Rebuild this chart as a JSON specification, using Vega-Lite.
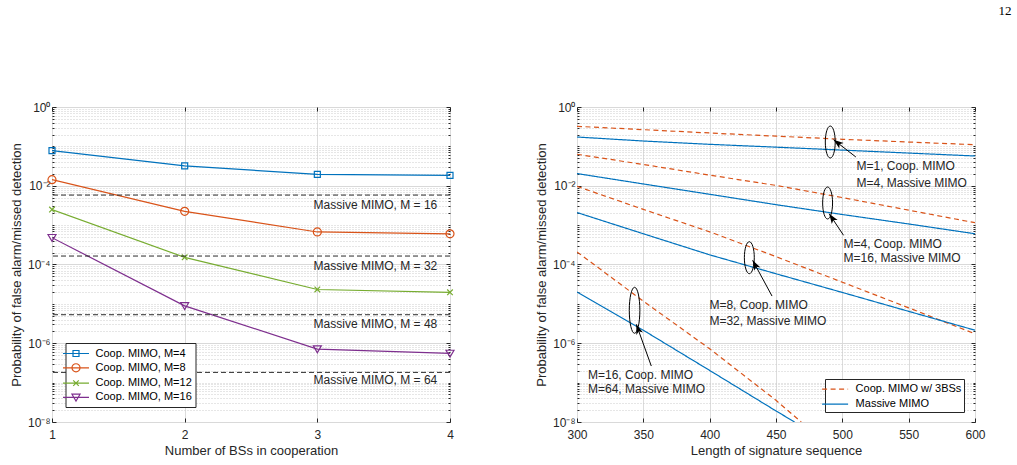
{
  "$schema": "https://vega.github.io/schema/vega-lite/v6.json",
  "background": "white",
  "padding": {"left": 9, "right": 5, "top": 4, "bottom": 4},
  "title": {"text": "12", "anchor": "end", "font": "Liberation Serif", "fontSize": 13, "fontWeight": "normal", "color": "#000000", "offset": 83, "dx": 26},
  "datasets": {
    "coop": [
      {"series": "Coop. MIMO, M=4", "bs": 1, "p": 0.078},
      {"series": "Coop. MIMO, M=4", "bs": 2, "p": 0.032},
      {"series": "Coop. MIMO, M=4", "bs": 3, "p": 0.0195},
      {"series": "Coop. MIMO, M=4", "bs": 4, "p": 0.0184},
      {"series": "Coop. MIMO, M=8", "bs": 1, "p": 0.0143},
      {"series": "Coop. MIMO, M=8", "bs": 2, "p": 0.00224},
      {"series": "Coop. MIMO, M=8", "bs": 3, "p": 0.00067},
      {"series": "Coop. MIMO, M=8", "bs": 4, "p": 0.0006},
      {"series": "Coop. MIMO, M=12", "bs": 1, "p": 0.00248},
      {"series": "Coop. MIMO, M=12", "bs": 2, "p": 0.000152},
      {"series": "Coop. MIMO, M=12", "bs": 3, "p": 0.0000232},
      {"series": "Coop. MIMO, M=12", "bs": 4, "p": 0.0000197},
      {"series": "Coop. MIMO, M=16", "bs": 1, "p": 0.00048},
      {"series": "Coop. MIMO, M=16", "bs": 2, "p": 0.0000089},
      {"series": "Coop. MIMO, M=16", "bs": 3, "p": 7.1e-7},
      {"series": "Coop. MIMO, M=16", "bs": 4, "p": 5.5e-7}
    ],
    "massive": [
      {"M": 16, "p": 0.0058},
      {"M": 32, "p": 0.000164},
      {"M": 48, "p": 0.0000053},
      {"M": 64, "p": 1.82e-7}
    ],
    "massiveLabels": [
      {"bs": 3.904, "p": 0.0033, "label": "Massive MIMO, M = 16"},
      {"bs": 3.904, "p": 0.0000916, "label": "Massive MIMO, M = 32"},
      {"bs": 3.904, "p": 0.00000302, "label": "Massive MIMO, M = 48"},
      {"bs": 3.904, "p": 1.15e-7, "label": "Massive MIMO, M = 64"}
    ],
    "curves": [
      {"kind": "Coop. MIMO w/ 3BSs", "grp": "c1", "L": 300, "p": 0.3236},
      {"kind": "Coop. MIMO w/ 3BSs", "grp": "c1", "L": 350, "p": 0.2655},
      {"kind": "Coop. MIMO w/ 3BSs", "grp": "c1", "L": 400, "p": 0.2188},
      {"kind": "Coop. MIMO w/ 3BSs", "grp": "c1", "L": 450, "p": 0.182},
      {"kind": "Coop. MIMO w/ 3BSs", "grp": "c1", "L": 500, "p": 0.1514},
      {"kind": "Coop. MIMO w/ 3BSs", "grp": "c1", "L": 550, "p": 0.1288},
      {"kind": "Coop. MIMO w/ 3BSs", "grp": "c1", "L": 600, "p": 0.1104},
      {"kind": "Coop. MIMO w/ 3BSs", "grp": "c2", "L": 300, "p": 0.0631},
      {"kind": "Coop. MIMO w/ 3BSs", "grp": "c2", "L": 350, "p": 0.0347},
      {"kind": "Coop. MIMO w/ 3BSs", "grp": "c2", "L": 400, "p": 0.0186},
      {"kind": "Coop. MIMO w/ 3BSs", "grp": "c2", "L": 450, "p": 0.0102},
      {"kind": "Coop. MIMO w/ 3BSs", "grp": "c2", "L": 500, "p": 0.00501},
      {"kind": "Coop. MIMO w/ 3BSs", "grp": "c2", "L": 550, "p": 0.0024},
      {"kind": "Coop. MIMO w/ 3BSs", "grp": "c2", "L": 600, "p": 0.00115},
      {"kind": "Coop. MIMO w/ 3BSs", "grp": "c3", "L": 300, "p": 0.00966},
      {"kind": "Coop. MIMO w/ 3BSs", "grp": "c3", "L": 350, "p": 0.00251},
      {"kind": "Coop. MIMO w/ 3BSs", "grp": "c3", "L": 400, "p": 0.000676},
      {"kind": "Coop. MIMO w/ 3BSs", "grp": "c3", "L": 450, "p": 0.0001585},
      {"kind": "Coop. MIMO w/ 3BSs", "grp": "c3", "L": 500, "p": 0.0000355},
      {"kind": "Coop. MIMO w/ 3BSs", "grp": "c3", "L": 550, "p": 0.00000794},
      {"kind": "Coop. MIMO w/ 3BSs", "grp": "c3", "L": 600, "p": 0.00000174},
      {"kind": "Coop. MIMO w/ 3BSs", "grp": "c4", "L": 300, "p": 0.000209},
      {"kind": "Coop. MIMO w/ 3BSs", "grp": "c4", "L": 350, "p": 0.0000117},
      {"kind": "Coop. MIMO w/ 3BSs", "grp": "c4", "L": 400, "p": 7.24e-7},
      {"kind": "Coop. MIMO w/ 3BSs", "grp": "c4", "L": 450, "p": 3.55e-8},
      {"kind": "Coop. MIMO w/ 3BSs", "grp": "c4", "L": 469, "p": 1e-8},
      {"kind": "Massive MIMO", "grp": "m1", "L": 300, "p": 0.173},
      {"kind": "Massive MIMO", "grp": "m1", "L": 350, "p": 0.1368},
      {"kind": "Massive MIMO", "grp": "m1", "L": 400, "p": 0.1127},
      {"kind": "Massive MIMO", "grp": "m1", "L": 450, "p": 0.0955},
      {"kind": "Massive MIMO", "grp": "m1", "L": 500, "p": 0.0804},
      {"kind": "Massive MIMO", "grp": "m1", "L": 550, "p": 0.0676},
      {"kind": "Massive MIMO", "grp": "m1", "L": 600, "p": 0.057},
      {"kind": "Massive MIMO", "grp": "m2", "L": 300, "p": 0.0204},
      {"kind": "Massive MIMO", "grp": "m2", "L": 350, "p": 0.0111},
      {"kind": "Massive MIMO", "grp": "m2", "L": 400, "p": 0.00607},
      {"kind": "Massive MIMO", "grp": "m2", "L": 450, "p": 0.00331},
      {"kind": "Massive MIMO", "grp": "m2", "L": 500, "p": 0.00186},
      {"kind": "Massive MIMO", "grp": "m2", "L": 550, "p": 0.00107},
      {"kind": "Massive MIMO", "grp": "m2", "L": 600, "p": 0.000603},
      {"kind": "Massive MIMO", "grp": "m3", "L": 300, "p": 0.00209},
      {"kind": "Massive MIMO", "grp": "m3", "L": 350, "p": 0.000603},
      {"kind": "Massive MIMO", "grp": "m3", "L": 400, "p": 0.000176},
      {"kind": "Massive MIMO", "grp": "m3", "L": 450, "p": 0.0000582},
      {"kind": "Massive MIMO", "grp": "m3", "L": 500, "p": 0.0000195},
      {"kind": "Massive MIMO", "grp": "m3", "L": 550, "p": 0.00000646},
      {"kind": "Massive MIMO", "grp": "m3", "L": 600, "p": 0.00000214},
      {"kind": "Massive MIMO", "grp": "m4", "L": 300, "p": 0.00002},
      {"kind": "Massive MIMO", "grp": "m4", "L": 350, "p": 0.00000214},
      {"kind": "Massive MIMO", "grp": "m4", "L": 400, "p": 2.04e-7},
      {"kind": "Massive MIMO", "grp": "m4", "L": 450, "p": 1.91e-8},
      {"kind": "Massive MIMO", "grp": "m4", "L": 464, "p": 1e-8}
    ],
    "ellipses": [
      {"group": "small", "L": 490.9, "p": 0.129},
      {"group": "small", "L": 488.9, "p": 0.00365},
      {"group": "small", "L": 429.9, "p": 0.000149},
      {"group": "big", "L": 343.4, "p": 0.00000687}
    ],
    "arrows": [
      {"L0": 510.2, "p0": 0.0537, "L1": 493.4, "p1": 0.148},
      {"L0": 500.9, "p0": 0.000552, "L1": 490.1, "p1": 0.00195},
      {"L0": 447.0, "p0": 0.0000158, "L1": 432.4, "p1": 0.000128},
      {"L0": 356.0, "p0": 2.64e-7, "L1": 344.7, "p1": 0.00000303}
    ],
    "notes": [
      {"L": 510.7, "p": 0.0312, "text": "M=1, Coop. MIMO"},
      {"L": 510.7, "p": 0.01196, "text": "M=4, Massive MIMO"},
      {"L": 500.9, "p": 0.000337, "text": "M=4, Coop. MIMO"},
      {"L": 500.9, "p": 0.000146, "text": "M=16, Massive MIMO"},
      {"L": 399.8, "p": 0.0000095, "text": "M=8, Coop. MIMO"},
      {"L": 399.8, "p": 0.00000374, "text": "M=32, Massive MIMO"},
      {"L": 308.3, "p": 1.59e-7, "text": "M=16, Coop. MIMO"},
      {"L": 308.3, "p": 7.0e-8, "text": "M=64, Massive MIMO"}
    ]
  },
  "spacing": 127,
  "bounds": "flush",
  "hconcat": [
    {
      "width": 398,
      "height": 315,
      "layer": [
        {
          "data": {"name": "coop"},
          "mark": {"type": "line", "strokeWidth": 1.2, "clip": true},
          "encoding": {
            "x": {"field": "bs", "type": "quantitative", "scale": {"domain": [1, 4], "nice": false, "zero": false},
              "axis": {"orient": "bottom", "values": [1, 2, 3, 4], "format": "d", "title": "Number of BSs in cooperation", "tickSize": -4, "labelPadding": 11, "titlePadding": 4, "grid": true, "gridColor": "#dcdcdc"}},
            "y": {"field": "p", "type": "quantitative", "scale": {"type": "log", "domain": [1e-8, 1], "nice": false},
              "axis": {
                "orient": "left",
                "values": [1e-8,2e-8,3e-8,4e-8,5e-8,6e-8,7e-8,8e-8,9e-8,1e-7,2e-7,3e-7,4e-7,5e-7,6e-7,7e-7,8e-7,9e-7,1e-6,2e-6,3e-6,4e-6,5e-6,6e-6,7e-6,8e-6,9e-6,1e-5,2e-5,3e-5,4e-5,5e-5,6e-5,7e-5,8e-5,9e-5,1e-4,2e-4,3e-4,4e-4,5e-4,6e-4,7e-4,8e-4,9e-4,0.001,0.002,0.003,0.004,0.005,0.006,0.007,0.008,0.009,0.01,0.02,0.03,0.04,0.05,0.06,0.07,0.08,0.09,0.1,0.2,0.3,0.4,0.5,0.6,0.7,0.8,0.9,1],
                "labelExpr": "(abs(log(datum.value)/LN10 - round(log(datum.value)/LN10)) < 0.001 && round(log(datum.value)/LN10) % 2 == 0) ? '10' + replace(replace(replace(replace(replace(replace(toString(round(log(datum.value)/LN10)), '-', '⁻'), '0', '⁰'), '2', '²'), '4', '⁴'), '6', '⁶'), '8', '⁸') : ''",
                "title": "Probability of false alarm/missed detection",
                "titlePadding": 4,
                "labelPadding": 6,
                "grid": true,
                "gridDash": {"condition": {"test": "abs(log(datum.value)/LN10 - round(log(datum.value)/LN10)) < 0.001 && round(log(datum.value)/LN10) % 2 == 0", "value": []}, "value": [1, 2]},
                "gridColor": {"condition": {"test": "abs(log(datum.value)/LN10 - round(log(datum.value)/LN10)) < 0.001 && round(log(datum.value)/LN10) % 2 == 0", "value": "#d9d9d9"}, "value": "#cccccc"},
                "tickSize": {"condition": {"test": "abs(log(datum.value)/LN10 - round(log(datum.value)/LN10)) < 0.001 && round(log(datum.value)/LN10) % 2 == 0", "value": -4}, "value": -2}
              }},
            "color": {"field": "series", "type": "nominal",
              "scale": {"domain": ["Coop. MIMO, M=4", "Coop. MIMO, M=8", "Coop. MIMO, M=12", "Coop. MIMO, M=16"], "range": ["#0072BD", "#D95319", "#77AC30", "#7E2F8E"]},
              "legend": {
                "title": null, "orient": "none", "legendX": 13.5, "legendY": 236,
                "labelFont": "Liberation Sans", "labelFontSize": 11, "labelColor": "#000000", "labelOffset": 12,
                "symbolSize": 169, "symbolStrokeWidth": 1.2, "rowPadding": 1.3, "padding": 3,
                "strokeColor": "#262626", "fillColor": "#ffffff",
                "encode": {"symbols": {"update": {
                  "shape": {"signal": "datum.value === 'Coop. MIMO, M=4' ? 'M-2,0H2M-0.46,-0.46H0.46V0.46H-0.46Z' : datum.value === 'Coop. MIMO, M=8' ? 'M-2,0H2M-0.62,0A0.62,0.62 0 1,0 0.62,0A0.62,0.62 0 1,0 -0.62,0' : datum.value === 'Coop. MIMO, M=12' ? 'M-2,0H2M-0.43,-0.43L0.43,0.43M-0.43,0.43L0.43,-0.43' : 'M-2,0H2M-0.62,-0.49H0.62L0,0.55Z'"},
                  "fill": {"value": "transparent"}
                }}}
              }}
          }
        },
        {
          "data": {"name": "coop"},
          "transform": [{"filter": "datum.series === 'Coop. MIMO, M=4'"}],
          "mark": {"type": "point", "shape": "M-0.75,-0.75H0.75V0.75H-0.75Z", "filled": false, "size": 64, "strokeWidth": 1.2, "opacity": 1},
          "encoding": {
            "x": {"field": "bs", "type": "quantitative", "scale": {"domain": [1, 4], "nice": false, "zero": false},
              "axis": {"orient": "top", "values": [1, 2, 3, 4], "labels": false, "title": null, "grid": false, "tickSize": -4}},
            "y": {"field": "p", "type": "quantitative", "scale": {"type": "log", "domain": [1e-8, 1], "nice": false},
              "axis": {
                "orient": "right", "labels": false, "title": null, "grid": false,
                "values": [1e-8,2e-8,3e-8,4e-8,5e-8,6e-8,7e-8,8e-8,9e-8,1e-7,2e-7,3e-7,4e-7,5e-7,6e-7,7e-7,8e-7,9e-7,1e-6,2e-6,3e-6,4e-6,5e-6,6e-6,7e-6,8e-6,9e-6,1e-5,2e-5,3e-5,4e-5,5e-5,6e-5,7e-5,8e-5,9e-5,1e-4,2e-4,3e-4,4e-4,5e-4,6e-4,7e-4,8e-4,9e-4,0.001,0.002,0.003,0.004,0.005,0.006,0.007,0.008,0.009,0.01,0.02,0.03,0.04,0.05,0.06,0.07,0.08,0.09,0.1,0.2,0.3,0.4,0.5,0.6,0.7,0.8,0.9,1],
                "tickSize": {"condition": {"test": "abs(log(datum.value)/LN10 - round(log(datum.value)/LN10)) < 0.001 && round(log(datum.value)/LN10) % 2 == 0", "value": -4}, "value": -2}
              }},
            "color": {"field": "series", "type": "nominal"}
          }
        },
        {
          "data": {"name": "coop"},
          "transform": [{"filter": "datum.series === 'Coop. MIMO, M=8'"}],
          "mark": {"type": "point", "shape": "M-1,0A1,1 0 1,0 1,0A1,1 0 1,0 -1,0", "filled": false, "size": 64, "strokeWidth": 1.2, "opacity": 1},
          "encoding": {
            "x": {"field": "bs", "type": "quantitative", "scale": {"domain": [1, 4], "nice": false, "zero": false}, "axis": null},
            "y": {"field": "p", "type": "quantitative", "scale": {"type": "log", "domain": [1e-8, 1], "nice": false}, "axis": null},
            "color": {"field": "series", "type": "nominal"}
          }
        },
        {
          "data": {"name": "coop"},
          "transform": [{"filter": "datum.series === 'Coop. MIMO, M=12'"}],
          "mark": {"type": "point", "shape": "M-0.7,-0.7L0.7,0.7M-0.7,0.7L0.7,-0.7", "filled": false, "size": 64, "strokeWidth": 1.2, "opacity": 1},
          "encoding": {
            "x": {"field": "bs", "type": "quantitative", "scale": {"domain": [1, 4], "nice": false, "zero": false}, "axis": null},
            "y": {"field": "p", "type": "quantitative", "scale": {"type": "log", "domain": [1e-8, 1], "nice": false}, "axis": null},
            "color": {"field": "series", "type": "nominal"}
          }
        },
        {
          "data": {"name": "coop"},
          "transform": [{"filter": "datum.series === 'Coop. MIMO, M=16'"}],
          "mark": {"type": "point", "shape": "M-1,-0.8H1L0,0.9Z", "filled": false, "size": 64, "strokeWidth": 1.2, "opacity": 1},
          "encoding": {
            "x": {"field": "bs", "type": "quantitative", "scale": {"domain": [1, 4], "nice": false, "zero": false}, "axis": null},
            "y": {"field": "p", "type": "quantitative", "scale": {"type": "log", "domain": [1e-8, 1], "nice": false}, "axis": null},
            "color": {"field": "series", "type": "nominal"}
          }
        },
        {
          "data": {"name": "massive"},
          "mark": {"type": "rule", "strokeDash": [5, 3], "color": "#2b2b2b", "strokeWidth": 1},
          "encoding": {
            "y": {"field": "p", "type": "quantitative", "scale": {"type": "log", "domain": [1e-8, 1], "nice": false}, "axis": null}
          }
        },
        {
          "data": {"name": "massiveLabels"},
          "mark": {"type": "text", "align": "right", "baseline": "middle", "font": "Liberation Sans", "fontSize": 12, "color": "#262626"},
          "encoding": {
            "x": {"field": "bs", "type": "quantitative", "scale": {"domain": [1, 4], "nice": false, "zero": false}, "axis": null},
            "y": {"field": "p", "type": "quantitative", "scale": {"type": "log", "domain": [1e-8, 1], "nice": false}, "axis": null},
            "text": {"field": "label"}
          }
        }
      ],
      "resolve": {"axis": {"x": "independent", "y": "independent"}}
    },
    {
      "width": 398,
      "height": 315,
      "layer": [
        {
          "data": {"name": "curves"},
          "mark": {"type": "line", "strokeWidth": 1.2, "clip": true},
          "encoding": {
            "x": {"field": "L", "type": "quantitative", "scale": {"domain": [300, 600], "nice": false, "zero": false},
              "axis": {"orient": "bottom", "values": [300, 350, 400, 450, 500, 550, 600], "format": "d", "title": "Length of signature sequence", "tickSize": -4, "labelPadding": 11, "titlePadding": 4, "grid": true, "gridColor": "#dcdcdc"}},
            "y": {"field": "p", "type": "quantitative", "scale": {"type": "log", "domain": [1e-8, 1], "nice": false},
              "axis": {
                "orient": "left",
                "values": [1e-8,2e-8,3e-8,4e-8,5e-8,6e-8,7e-8,8e-8,9e-8,1e-7,2e-7,3e-7,4e-7,5e-7,6e-7,7e-7,8e-7,9e-7,1e-6,2e-6,3e-6,4e-6,5e-6,6e-6,7e-6,8e-6,9e-6,1e-5,2e-5,3e-5,4e-5,5e-5,6e-5,7e-5,8e-5,9e-5,1e-4,2e-4,3e-4,4e-4,5e-4,6e-4,7e-4,8e-4,9e-4,0.001,0.002,0.003,0.004,0.005,0.006,0.007,0.008,0.009,0.01,0.02,0.03,0.04,0.05,0.06,0.07,0.08,0.09,0.1,0.2,0.3,0.4,0.5,0.6,0.7,0.8,0.9,1],
                "labelExpr": "(abs(log(datum.value)/LN10 - round(log(datum.value)/LN10)) < 0.001 && round(log(datum.value)/LN10) % 2 == 0) ? '10' + replace(replace(replace(replace(replace(replace(toString(round(log(datum.value)/LN10)), '-', '⁻'), '0', '⁰'), '2', '²'), '4', '⁴'), '6', '⁶'), '8', '⁸') : ''",
                "title": "Probability of false alarm/missed detection",
                "titlePadding": 4,
                "labelPadding": 6,
                "grid": true,
                "gridDash": {"condition": {"test": "abs(log(datum.value)/LN10 - round(log(datum.value)/LN10)) < 0.001 && round(log(datum.value)/LN10) % 2 == 0", "value": []}, "value": [1, 2]},
                "gridColor": {"condition": {"test": "abs(log(datum.value)/LN10 - round(log(datum.value)/LN10)) < 0.001 && round(log(datum.value)/LN10) % 2 == 0", "value": "#d9d9d9"}, "value": "#cccccc"},
                "tickSize": {"condition": {"test": "abs(log(datum.value)/LN10 - round(log(datum.value)/LN10)) < 0.001 && round(log(datum.value)/LN10) % 2 == 0", "value": -4}, "value": -2}
              }},
            "color": {"field": "kind", "type": "nominal",
              "scale": {"domain": ["Coop. MIMO w/ 3BSs", "Massive MIMO"], "range": ["#D95319", "#0072BD"]},
              "legend": {
                "title": null, "orient": "none", "legendX": 248, "legendY": 272,
                "labelFont": "Liberation Sans", "labelFontSize": 11, "labelColor": "#000000", "labelOffset": 13,
                "symbolSize": 169, "symbolStrokeWidth": 1.2, "rowPadding": 2, "padding": 2.6,
                "strokeColor": "#262626", "fillColor": "#ffffff",
                "encode": {"symbols": {"update": {"shape": {"value": "M-2,0H2"}, "fill": {"value": "transparent"}}}}
              }},
            "strokeDash": {"field": "kind", "type": "nominal",
              "scale": {"domain": ["Coop. MIMO w/ 3BSs", "Massive MIMO"], "range": [[5, 3.5], [1, 0]]}},
            "detail": {"field": "grp", "type": "nominal"}
          }
        },
        {
          "data": {"name": "ellipses"},
          "transform": [{"filter": "datum.group === 'small'"}],
          "mark": {"type": "point", "shape": "M-0.31,0A0.31,1 0 1,0 0.31,0A0.31,1 0 1,0 -0.31,0", "size": 1024, "filled": false, "color": "#000000", "strokeWidth": 1, "opacity": 1},
          "encoding": {
            "x": {"field": "L", "type": "quantitative", "scale": {"domain": [300, 600], "nice": false, "zero": false},
              "axis": {"orient": "top", "values": [300, 350, 400, 450, 500, 550, 600], "labels": false, "title": null, "grid": false, "tickSize": -4}},
            "y": {"field": "p", "type": "quantitative", "scale": {"type": "log", "domain": [1e-8, 1], "nice": false},
              "axis": {
                "orient": "right", "labels": false, "title": null, "grid": false,
                "values": [1e-8,2e-8,3e-8,4e-8,5e-8,6e-8,7e-8,8e-8,9e-8,1e-7,2e-7,3e-7,4e-7,5e-7,6e-7,7e-7,8e-7,9e-7,1e-6,2e-6,3e-6,4e-6,5e-6,6e-6,7e-6,8e-6,9e-6,1e-5,2e-5,3e-5,4e-5,5e-5,6e-5,7e-5,8e-5,9e-5,1e-4,2e-4,3e-4,4e-4,5e-4,6e-4,7e-4,8e-4,9e-4,0.001,0.002,0.003,0.004,0.005,0.006,0.007,0.008,0.009,0.01,0.02,0.03,0.04,0.05,0.06,0.07,0.08,0.09,0.1,0.2,0.3,0.4,0.5,0.6,0.7,0.8,0.9,1],
                "tickSize": {"condition": {"test": "abs(log(datum.value)/LN10 - round(log(datum.value)/LN10)) < 0.001 && round(log(datum.value)/LN10) % 2 == 0", "value": -4}, "value": -2}
              }}
          }
        },
        {
          "data": {"name": "ellipses"},
          "transform": [{"filter": "datum.group === 'big'"}],
          "mark": {"type": "point", "shape": "M-0.23,0A0.23,1 0 1,0 0.23,0A0.23,1 0 1,0 -0.23,0", "size": 2116, "filled": false, "color": "#000000", "strokeWidth": 1, "opacity": 1},
          "encoding": {
            "x": {"field": "L", "type": "quantitative", "scale": {"domain": [300, 600], "nice": false, "zero": false}, "axis": null},
            "y": {"field": "p", "type": "quantitative", "scale": {"type": "log", "domain": [1e-8, 1], "nice": false}, "axis": null}
          }
        },
        {
          "data": {"name": "arrows"},
          "mark": {"type": "rule", "color": "#000000", "strokeWidth": 1},
          "encoding": {
            "x": {"field": "L0", "type": "quantitative", "scale": {"domain": [300, 600], "nice": false, "zero": false}, "axis": null},
            "y": {"field": "p0", "type": "quantitative", "scale": {"type": "log", "domain": [1e-8, 1], "nice": false}, "axis": null},
            "x2": {"field": "L1"},
            "y2": {"field": "p1"}
          }
        },
        {
          "data": {"name": "arrows"},
          "transform": [{"calculate": "atan2((datum.L1 - datum.L0) * 398 / 300, (log(datum.p1) - log(datum.p0)) / LN10 * 315 / 8) * 180 / PI", "as": "heading"}],
          "mark": {"type": "point", "shape": "M0,0L-0.35,1L0,0.75L0.35,1Z", "size": 400, "filled": true, "color": "#000000", "strokeWidth": 0, "opacity": 1},
          "encoding": {
            "x": {"field": "L1", "type": "quantitative", "scale": {"domain": [300, 600], "nice": false, "zero": false}, "axis": null},
            "y": {"field": "p1", "type": "quantitative", "scale": {"type": "log", "domain": [1e-8, 1], "nice": false}, "axis": null},
            "angle": {"field": "heading", "type": "quantitative", "scale": null}
          }
        },
        {
          "data": {"name": "notes"},
          "mark": {"type": "text", "align": "left", "baseline": "middle", "font": "Liberation Sans", "fontSize": 12, "color": "#262626"},
          "encoding": {
            "x": {"field": "L", "type": "quantitative", "scale": {"domain": [300, 600], "nice": false, "zero": false}, "axis": null},
            "y": {"field": "p", "type": "quantitative", "scale": {"type": "log", "domain": [1e-8, 1], "nice": false}, "axis": null},
            "text": {"field": "text"}
          }
        }
      ],
      "resolve": {"axis": {"x": "independent", "y": "independent"}}
    }
  ],
  "resolve": {"scale": {"color": "independent", "strokeDash": "independent"}},
  "config": {
    "font": "Liberation Sans",
    "view": {"stroke": "#3a3a3a", "strokeWidth": 1},
    "axis": {
      "labelFont": "Liberation Sans", "labelFontSize": 12, "labelColor": "#262626",
      "titleFont": "Liberation Sans", "titleFontSize": 13, "titleFontWeight": "normal", "titleColor": "#262626",
      "domain": false, "tickColor": "#262626", "gridColor": "#dcdcdc", "gridWidth": 1,
      "labelOverlap": false, "labelFlush": false, "labelBound": false
    }
  }
}
